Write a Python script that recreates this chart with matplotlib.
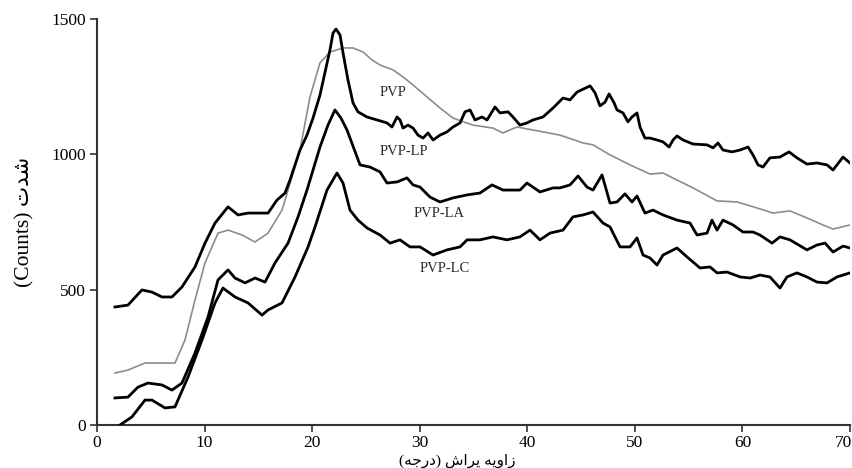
import matplotlib
matplotlib.use("Agg")
import matplotlib.pyplot as plt
from matplotlib.transforms import ScaledTranslation

# ---- data ----
pvp_x = [1.67, 2.88, 4.46, 6.04, 7.25, 8.18, 9.11, 10.04, 11.25, 12.18, 13.48, 14.69, 15.90, 17.20, 17.76,
         18.87, 19.80, 20.73, 21.66, 22.87, 23.80, 24.73, 25.56, 26.31, 27.52, 28.45, 29.38, 30.68, 31.89,
         33.09, 34.95, 36.81, 37.74, 39.04, 40.53, 43.04, 45.18, 46.11, 47.69, 49.55, 51.41, 52.62, 53.92,
         55.41, 57.64, 59.50, 61.35, 62.84, 64.42, 66.00, 67.49, 68.42, 70.0]
pvp_y = [192, 203, 229, 229, 229, 314, 462, 599, 709, 720, 702, 676, 709, 794, 868,
         1016, 1212, 1338, 1378, 1393, 1393, 1378, 1349, 1330, 1312, 1286, 1256, 1212, 1171,
         1134, 1108, 1097, 1079, 1101, 1090, 1071, 1042, 1035, 998, 961, 927, 931, 905,
         876, 828, 824, 802, 783, 791, 765, 739, 724, 739]

lp_x = [1.67, 2.88, 4.18, 5.11, 6.04, 6.97, 7.90, 9.11, 10.04, 10.97,
        12.18, 13.11, 14.04, 15.90, 16.73, 17.48, 17.94, 18.87, 19.52, 20.08,
        20.73, 21.20, 21.66, 21.94, 22.22, 22.59, 22.87, 23.33, 23.80, 24.26,
        25.10, 26.03, 26.96, 27.42, 27.89, 28.17, 28.45, 28.91, 29.38, 29.84,
        30.31, 30.77, 31.24, 31.89, 32.54, 33.09, 33.75, 34.21, 34.68, 35.14,
        35.79, 36.26, 37.00, 37.46, 38.21, 38.67, 39.32, 39.97, 40.53, 41.46,
        42.39, 43.32, 43.97, 44.62, 45.84, 46.30, 46.76, 47.23, 47.60, 48.07,
        48.34, 48.90, 49.36, 49.73, 50.20, 50.48, 50.94, 51.41, 52.06, 52.62,
        53.18, 53.55, 53.92, 54.48, 55.41, 56.71, 57.27, 57.73, 58.19, 59.03,
        59.78, 60.52, 60.98, 61.45, 61.91, 62.56, 63.49, 64.33, 65.07, 66.00,
        66.93, 67.86, 68.42, 69.35, 70.0]
lp_y = [436, 443, 499, 491, 473, 473, 510, 584, 672, 746,
        806, 776, 783, 783, 831, 857, 905, 1016, 1071, 1134,
        1219, 1304, 1386, 1448, 1463, 1441, 1375, 1275, 1190, 1157,
        1138, 1127, 1116, 1101, 1138, 1127, 1097, 1108, 1097, 1071,
        1060, 1079, 1053, 1071, 1083, 1101, 1116, 1157, 1164, 1127,
        1138, 1127, 1175, 1153, 1157, 1138, 1108, 1116, 1127, 1138,
        1171, 1208, 1201, 1230, 1253, 1227, 1179, 1193, 1223, 1190,
        1164, 1153, 1120, 1138, 1153, 1101, 1060, 1060, 1053, 1046,
        1027, 1053, 1068, 1053, 1038, 1035, 1024, 1042, 1016, 1009,
        1016, 1027, 998, 961, 953, 987, 990, 1009, 987, 964,
        968, 961, 942, 990, 968]

la_x = [1.67, 2.88, 3.81, 4.74, 6.04, 6.97, 7.90, 9.11, 10.32, 11.25,
        12.18, 12.83, 13.76, 14.69, 15.62, 16.55, 17.76, 18.69, 19.52, 20.73,
        21.47, 22.12, 22.68, 23.24, 24.45, 25.38, 26.31, 26.96, 27.89, 28.82,
        29.38, 30.03, 30.96, 31.89, 33.09, 34.40, 35.60, 36.72, 37.74, 39.32,
        39.97, 41.18, 42.39, 43.04, 43.97, 44.72, 45.55, 46.11, 46.95, 47.69,
        48.34, 49.08, 49.73, 50.20, 50.94, 51.69, 52.62, 53.92, 55.13, 55.78,
        56.71, 57.17, 57.64, 58.19, 59.13, 60.05, 60.98, 61.63, 62.75, 63.49,
        64.42, 66.00, 66.93, 67.68, 68.42, 69.35, 70.0]
la_y = [100, 103, 140, 155, 148, 129, 155, 266, 399, 536,
        573, 543, 525, 543, 528, 599, 672, 769, 868, 1027,
        1108, 1164, 1134, 1090, 961, 953, 935, 894, 898, 913,
        887, 879, 842, 824, 839, 850, 857, 887, 868, 868,
        894, 861, 876, 876, 887, 920, 879, 868, 924, 820,
        824, 854, 824, 846, 783, 794, 776, 757, 746, 702,
        709, 757, 720, 757, 739, 713, 713, 702, 672, 695,
        684, 647, 665, 672, 639, 661, 654]

lc_x = [2.14, 3.25, 4.46, 5.11, 6.32, 7.25, 8.46, 9.76, 10.97, 11.71,
        12.83, 14.04, 15.34, 15.90, 17.20, 18.41, 19.62, 20.27, 21.38, 22.31,
        22.87, 23.52, 24.26, 25.10, 26.31, 27.24, 28.17, 29.10, 30.03, 31.24,
        32.54, 33.75, 34.40, 35.60, 36.81, 38.11, 39.32, 40.25, 41.18, 42.11,
        43.32, 44.25, 45.18, 46.11, 47.04, 47.69, 48.62, 49.55, 50.20, 50.76,
        51.41, 52.06, 52.62, 53.92, 54.85, 56.06, 56.99, 57.64, 58.57, 59.78,
        60.71, 61.63, 62.56, 63.49, 64.14, 65.07, 66.00, 66.93, 67.86, 68.79,
        70.0]
lc_y = [0, 30, 92, 92, 63, 67, 177, 314, 451, 506,
        473, 451, 406, 425, 451, 547, 658, 732, 868, 931,
        894, 794, 757, 728, 702, 672, 684, 658, 658, 628,
        647, 658, 684, 684, 695, 684, 695, 720, 684, 709,
        720, 769, 776, 787, 746, 732, 658, 658, 691, 628,
        617, 591, 628, 654, 621, 580, 584, 562, 565, 547,
        543, 554, 547, 506, 547, 562, 547, 528, 525, 547,
        562]

labels = ["PVP", "PVP-LP", "PVP-LA", "PVP-LC"]
label_pos = [(26.3, 1227), (26.3, 1009), (29.4, 783), (30.0, 580)]

x_ticks = [0, 10, 20, 30, 40, 50, 60, 70]
y_ticks = [0, 500, 1000, 1500]

# Persian labels in visual (pre-shaped) order
ylabel_text = "(Counts) \uFE95\uFEAA\uFEB7"
xlabel_text = "(\uFEEA\uFE9F\uFEAD\uFEA9) \uFEB5\uFE8D\uFEAE\uFB58 \uFEEA\uFBFE\uFEED\uFE8D\uFEAF"

# ---- plot ----
fig = plt.figure(figsize=(8.53, 4.68), dpi=100)
ax = fig.add_axes([97/853, 1-425/468, (850-97)/853, (425-19)/468])

ax.plot(pvp_x, pvp_y, color="#8c8c8c", lw=1.2, zorder=2)
for xs, ys in [(lp_x, lp_y), (la_x, la_y), (lc_x, lc_y)]:
    ax.plot(xs, ys, color="black", lw=2.0, zorder=3, solid_joinstyle="round")

serif = ["Liberation Serif", "DejaVu Serif"]
for lab, (lx, ly) in zip(labels, label_pos):
    ax.text(lx, ly, lab, fontsize=10.5, family=serif, color="#2a2a2a", va="center", ha="left")

ax.set_xlim(0, 70)
ax.set_ylim(0, 1500)
ax.set_xticks(x_ticks)
ax.set_yticks(y_ticks)
for lab in ax.get_xticklabels() + ax.get_yticklabels():
    lab.set_family(serif)
    lab.set_fontsize(12.5)
ax.tick_params(direction="out", length=5, width=1.2, color="#333333", pad=3)
ax.tick_params(axis="x", pad=2)
# keep the last x tick label inside the canvas
last = ax.get_xticklabels()[-1]
last.set_transform(last.get_transform() + ScaledTranslation(-6/100, 0, fig.dpi_scale_trans))

for s in ["top", "right"]:
    ax.spines[s].set_visible(False)
for s in ["left", "bottom"]:
    ax.spines[s].set_linewidth(1.5)
    ax.spines[s].set_color("#333333")

ax.set_ylabel(ylabel_text, family=["Liberation Serif", "DejaVu Sans"], fontsize=15.5, labelpad=12)
ax.set_xlabel(xlabel_text, family=["Liberation Serif", "DejaVu Sans"], fontsize=11)
ax.xaxis.set_label_coords(0.478, -0.072)

fig.savefig("out.png", dpi=100)
